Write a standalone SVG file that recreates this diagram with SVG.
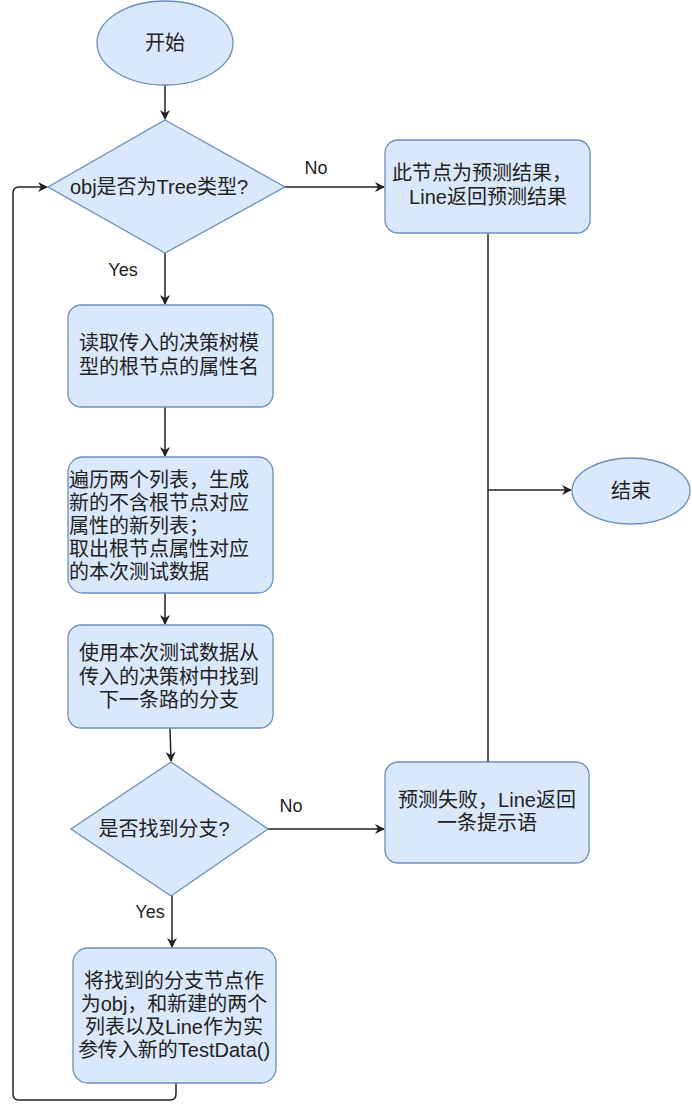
<svg xmlns="http://www.w3.org/2000/svg" width="692" height="1116" viewBox="0 0 692 1116">
<style>
.n{fill:#dae8fc;stroke:#6c8ebf;stroke-width:1.3}
.t{font-family:"Liberation Sans","Noto Sans CJK SC",sans-serif;font-size:20px;fill:#222;text-anchor:middle;dominant-baseline:central}
.l{font-family:"Liberation Sans","Noto Sans CJK SC",sans-serif;font-size:18px;fill:#222;text-anchor:middle;dominant-baseline:central}
.c{fill:none;stroke:#222;stroke-width:1.5}
</style>
<defs>
<marker id="a" viewBox="0 0 10 10" refX="9" refY="5" markerWidth="10" markerHeight="10" markerUnits="userSpaceOnUse" orient="auto">
<path d="M0,0 L10,5 L0,10 L3,5 Z" fill="#222"/>
</marker>
</defs>
<g id="connectors">
<path class="c" d="M165,85 V119" marker-end="url(#a)"/>
<path class="c" d="M285,187 H384" marker-end="url(#a)"/>
<path class="c" d="M165,253 V304" marker-end="url(#a)"/>
<path class="c" d="M165,407 V456" marker-end="url(#a)"/>
<path class="c" d="M165,593 V624" marker-end="url(#a)"/>
<path class="c" d="M170,728 L171,761" marker-end="url(#a)"/>
<path class="c" d="M268,829 H384" marker-end="url(#a)"/>
<path class="c" d="M172,896 V947" marker-end="url(#a)"/>
<path class="c" d="M488,233 V762"/>
<path class="c" d="M488,490 H571" marker-end="url(#a)"/>
<path class="c" d="M176,1083 V1094 Q176,1100 170,1100 H19 Q13,1100 13,1094 V193 Q13,187 19,187 H47" marker-end="url(#a)"/>
<text class="l" x="316" y="168">No</text>
<text class="l" x="123" y="270">Yes</text>
<text class="l" x="291" y="806">No</text>
<text class="l" x="150" y="912">Yes</text>
</g>
<g id="start">
<ellipse class="n" cx="165" cy="43" rx="68" ry="42"/>
<text class="t" x="165" y="43">开始</text>
</g>
<g id="isTree">
<path class="n" d="M165,120 L285,187 L165,253 L48,187 Z"/>
<text class="t" x="159" y="187">obj是否为Tree类型?</text>
</g>
<g id="leaf">
<rect class="n" x="385" y="140" width="205" height="93" rx="13"/>
<text class="t" x="482" y="173">此节点为预测结果，</text>
<text class="t" x="488" y="197">Line返回预测结果</text>
</g>
<g id="readRoot">
<rect class="n" x="68" y="305" width="205" height="102" rx="13"/>
<text class="t" x="169" y="343">读取传入的决策树模</text>
<text class="t" x="169" y="367">型的根节点的属性名</text>
</g>
<g id="traverse">
<rect class="n" x="68" y="457" width="205" height="136" rx="15"/>
<text class="t" x="69" y="480" style="text-anchor:start">遍历两个列表，生成</text>
<text class="t" x="69" y="503" style="text-anchor:start">新的不含根节点对应</text>
<text class="t" x="69" y="526" style="text-anchor:start">属性的新列表；</text>
<text class="t" x="69" y="549" style="text-anchor:start">取出根节点属性对应</text>
<text class="t" x="69" y="572" style="text-anchor:start">的本次测试数据</text>
</g>
<g id="findBranch">
<rect class="n" x="68" y="625" width="205" height="103" rx="13"/>
<text class="t" x="169" y="653">使用本次测试数据从</text>
<text class="t" x="169" y="677">传入的决策树中找到</text>
<text class="t" x="169" y="700">下一条路的分支</text>
</g>
<g id="found">
<path class="n" d="M171,762 L268,829 L171,896 L71,829 Z"/>
<text class="t" x="164" y="829">是否找到分支?</text>
</g>
<g id="fail">
<rect class="n" x="385" y="762" width="204" height="101" rx="13"/>
<text class="t" x="487" y="800">预测失败，Line返回</text>
<text class="t" x="487" y="823">一条提示语</text>
</g>
<g id="recurse">
<rect class="n" x="73" y="948" width="203" height="135" rx="15"/>
<text class="t" x="174" y="981">将找到的分支节点作</text>
<text class="t" x="174" y="1004">为obj，和新建的两个</text>
<text class="t" x="174" y="1027">列表以及Line作为实</text>
<text class="t" x="174" y="1050">参传入新的TestData()</text>
</g>
<g id="end">
<ellipse class="n" cx="631" cy="491" rx="59" ry="33"/>
<text class="t" x="631" y="491">结束</text>
</g>
</svg>
